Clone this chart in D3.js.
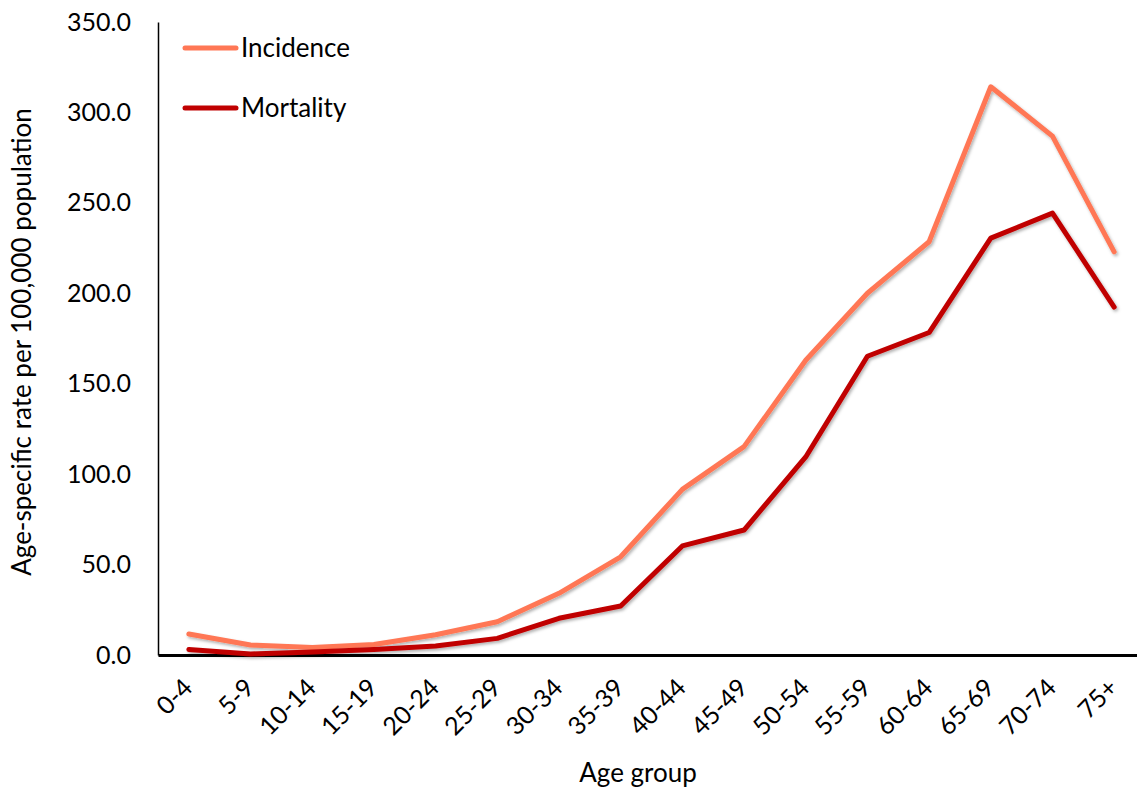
<!DOCTYPE html>
<html>
<head>
<meta charset="utf-8">
<script src="https://cdn.jsdelivr.net/npm/d3@7"></script>
<style>
  body { margin: 0; background: #fff; }
  svg { display: block; font-family: Lato, 'Open Sans', sans-serif; }
</style>
</head>
<body>
<div id="chart"></div>
<script>
var ageGroups = ['0-4', '5-9', '10-14', '15-19', '20-24', '25-29', '30-34', '35-39',
  '40-44', '45-49', '50-54', '55-59', '60-64', '65-69', '70-74', '75+']
var incidence = [11.6, 5.5, 4.2, 5.8, 11.2, 18.4, 34.1, 54.3, 91.6, 115.2, 163.0, 200.0, 228.5, 314.2, 286.9, 222.9]
var mortality = [3.1, 0.6, 1.7, 3.1, 5.0, 9.2, 20.3, 27.1, 60.3, 69.1, 109.5, 165.2, 178.3, 230.5, 244.3, 192.4]
var yTicks = [0, 50, 100, 150, 200, 250, 300, 350]
var seriesNames = ['Incidence', 'Mortality']

var w = 1137
var h = 792
var margins = { left: 158, right: -8, top: 22, bottom: 137 }
var colors = { Incidence: '#ff7755', Mortality: '#c00000' }
var fontSize = '26px'

var svg = d3.select('#chart').append('svg')
  .attr('width', w)
  .attr('height', h)

// soft shadow under the lines
var defs = svg.append('defs')
defs.append('filter')
  .attr('id', 'shadow')
  .attr('x', '-5%').attr('y', '-5%').attr('width', '110%').attr('height', '110%')
  .append('feDropShadow')
  .attr('dx', 1.5).attr('dy', 2)
  .attr('stdDeviation', 1.5)
  .attr('flood-color', '#000')
  .attr('flood-opacity', 0.3)

var x = d3.scaleBand().domain(ageGroups).range([margins.left, w - margins.right])
var y = d3.scaleLinear().domain([0, 350]).range([h - margins.bottom, margins.top])

// y axis
var yAxis = svg.append('g')
  .attr('transform', 'translate(' + margins.left + ',0)')
  .call(d3.axisLeft(y).tickValues(yTicks).tickSize(0).tickPadding(27).tickFormat(d3.format('.1f')))
yAxis.select('.domain').attr('stroke', '#000').attr('stroke-width', 1.5)
yAxis.selectAll('text')
  .attr('fill', '#000')
  .style('font-size', '25px')
  .style('font-family', 'Lato, sans-serif')

// x axis
var xAxis = svg.append('g')
  .attr('transform', 'translate(0,' + y(0) + ')')
  .call(d3.axisBottom(x).tickSize(0))
xAxis.select('.domain').attr('stroke', '#000').attr('stroke-width', 3)
xAxis.selectAll('text')
  .attr('fill', '#000')
  .style('font-size', '25px')
  .style('font-family', 'Lato, sans-serif')
  .attr('text-anchor', 'end')
  .attr('x', 0)
  .attr('y', 0)
  .attr('dy', '0.35em')
  .attr('transform', 'translate(-1,28) rotate(-45)')

// lines
var line = d3.line()
  .x(function (d, i) { return x(ageGroups[i]) + x.bandwidth() / 2 })
  .y(function (d) { return y(d) })

var seriesData = { Incidence: incidence, Mortality: mortality }
seriesNames.forEach(function (name) {
  svg.append('path')
    .datum(seriesData[name])
    .attr('d', line)
    .attr('fill', 'none')
    .attr('stroke', colors[name])
    .attr('stroke-width', 5)
    .attr('stroke-linejoin', 'round')
    .attr('stroke-linecap', 'round')
    .attr('filter', 'url(#shadow)')
})

// legend
seriesNames.forEach(function (name, i) {
  var ly = 48 + i * 60
  svg.append('line')
    .attr('x1', 185).attr('x2', 236)
    .attr('y1', ly).attr('y2', ly)
    .attr('stroke', colors[name])
    .attr('stroke-width', 5)
    .attr('stroke-linecap', 'round')
  svg.append('text')
    .attr('x', 241).attr('y', ly)
    .attr('dy', '0.35em')
    .style('font-size', fontSize)
    .text(name)
})

// axis titles
svg.append('text')
  .attr('x', 638).attr('y', 782)
  .attr('text-anchor', 'middle')
  .style('font-size', fontSize)
  .text('Age group')

svg.append('text')
  .attr('transform', 'translate(31,' + 342 + ') rotate(-90)')
  .attr('text-anchor', 'middle')
  .style('font-size', fontSize)
  .text('Age-specific rate per 100,000 population')
</script>
</body>
</html>
